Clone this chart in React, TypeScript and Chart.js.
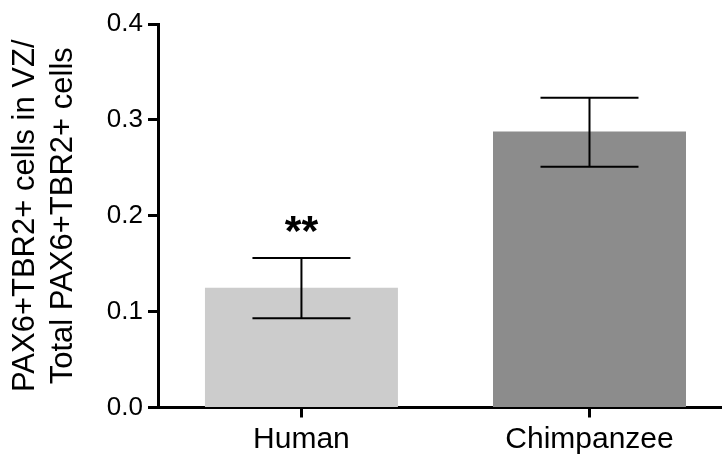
import { useEffect, useRef } from 'react';
import { Chart, registerables } from 'chart.js';

Chart.register(...registerables);

const categories = ['Human', 'Chimpanzee'];
const means = [0.125, 0.288];
const errLow = [0.093, 0.251];
const errHigh = [0.156, 0.323];
const significance = ['**', ''];
const yTicks = [0, 0.1, 0.2, 0.3, 0.4];
const yTitle = ['PAX6+TBR2+ cells in VZ/', 'Total PAX6+TBR2+ cells'];
const barColors = ['#cccccc', '#8c8c8c'];

const FONT = '"Liberation Sans", Arial, Helvetica, sans-serif';

const errorBarPlugin = {
  id: 'errorBars',
  afterDatasetsDraw(chart: any) {
    const { ctx, scales } = chart;
    const xs = scales.x;
    const ys = scales.y;
    ctx.save();
    ctx.strokeStyle = '#000';
    ctx.lineWidth = 2;
    categories.forEach((_, i) => {
      const x = xs.getPixelForValue(i);
      const yLo = ys.getPixelForValue(errLow[i]);
      const yHi = ys.getPixelForValue(errHigh[i]);
      const half = 49;
      ctx.beginPath();
      ctx.moveTo(x, yLo);
      ctx.lineTo(x, yHi);
      ctx.moveTo(x - half, yHi);
      ctx.lineTo(x + half, yHi);
      ctx.moveTo(x - half, yLo);
      ctx.lineTo(x + half, yLo);
      ctx.stroke();
      if (significance[i]) {
        ctx.fillStyle = '#000';
        ctx.font = `bold 43px ${FONT}`;
        ctx.textAlign = 'center';
        ctx.textBaseline = 'alphabetic';
        ctx.fillText(significance[i], x, yHi - 13);
      }
    });
    ctx.restore();
  },
};

export default function App() {
  const ref = useRef<HTMLCanvasElement | null>(null);
  useEffect(() => {
    document.body.style.margin = '0';
    if (!ref.current) return;
    const chart = new Chart(ref.current, {
      type: 'bar',
      data: {
        datasets: [
          {
            data: means.map((m, i) => ({ x: i, y: m })),
            backgroundColor: barColors,
            borderWidth: 0,
            barPercentage: 0.67,
            categoryPercentage: 1,
          },
        ],
      },
      options: {
        animation: false,
        responsive: true,
        maintainAspectRatio: false,
        layout: { padding: { top: 24, left: 0, right: 0, bottom: 0 } },
        plugins: { legend: { display: false }, tooltip: { enabled: false } },
        scales: {
          x: {
            type: 'linear',
            min: -0.498,
            max: 1.46,
            bounds: 'data',
            offset: false,
            afterBuildTicks: (s: any) => {
              s.ticks = categories.map((_, i) => ({ value: i }));
            },
            afterFit: (s: any) => {
              s.height = 49.5;
            },
            ticks: {
              callback: (v: any) => categories[v] ?? '',
              font: { size: 30, family: FONT },
              color: '#000',
              padding: 4,
              maxRotation: 0,
              autoSkip: false,
            },
            grid: {
              offset: false,
              drawOnChartArea: false,
              drawTicks: true,
              tickLength: 10,
              tickWidth: 3,
              tickColor: '#000',
            },
            border: { display: true, width: 3, color: '#000' },
          },
          y: {
            min: 0,
            max: 0.4,
            afterBuildTicks: (s: any) => {
              s.ticks = yTicks.map((v) => ({ value: v }));
            },
            afterFit: (s: any) => {
              s.width = 158;
            },
            ticks: {
              callback: (v: any) => Number(v).toFixed(1),
              font: { size: 26, family: FONT },
              color: '#000',
              padding: 5,
            },
            grid: {
              drawOnChartArea: false,
              drawTicks: true,
              tickLength: 10,
              tickWidth: 3,
              tickColor: '#000',
            },
            border: { display: true, width: 3, color: '#000' },
            title: {
              display: true,
              text: yTitle,
              color: '#000',
              font: { size: 31, family: FONT, lineHeight: 1.22 },
              padding: { top: 7, bottom: 0 },
            },
          },
        },
      },
      plugins: [errorBarPlugin],
    });
    return () => chart.destroy();
  }, []);
  return (
    <div style={{ width: 722, height: 457, position: 'relative' }}>
      <canvas ref={ref} />
    </div>
  );
}
